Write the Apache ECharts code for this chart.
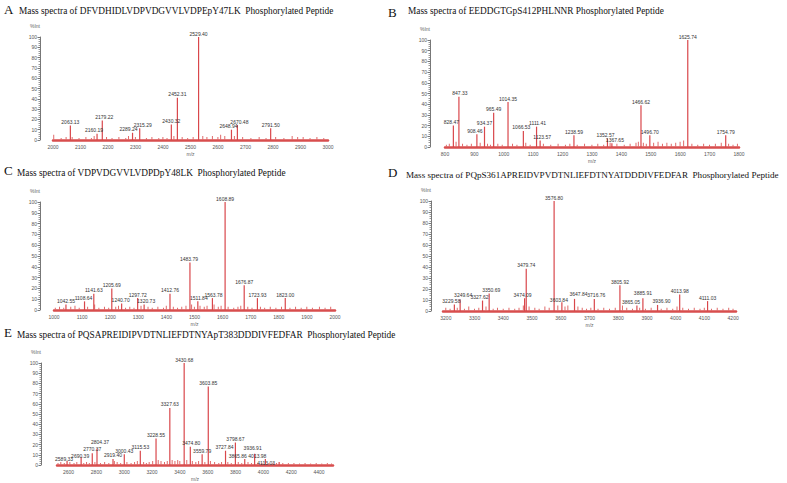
<!DOCTYPE html>
<html><head><meta charset="utf-8">
<script src="https://cdn.jsdelivr.net/npm/echarts@6/dist/echarts.min.js"></script>
<style>html,body{margin:0;padding:0;background:#fff}#c{width:787px;height:483px}</style>
</head><body><div id="c"></div>
<script>
// ---------- Panel titles ----------
const titlesText = [
  'Mass spectra of DFVDHIDLVDPVDGVVLVDPEpY47LK  Phosphorylated Peptide',
  'Mass spectra of EEDDGTGpS412PHLNNR Phosphorylated Peptide',
  'Mass spectra of VDPVDGVVLVDPDpY48LK  Phosphorylated Peptide',
  'Mass spectra of PQpS361APREIDVPVDTNLIEFDTNYATDDDIVFEDFAR  Phosphorylated Peptide',
  'Mass spectra of PQSAPREIDIPVDTNLIEFDTNYApT383DDDIVFEDFAR  Phosphorylated Peptide'
];
const panelLetters = ['A','B','C','D','E'];

// ---------- Tick labels ----------
const ticksA = [2000,2100,2200,2300,2400,2500,2600,2700,2800,2900,3000];
const ticksB = [800,900,1000,1100,1200,1300,1400,1500,1600,1700,1800];
const ticksC = [1000,1100,1200,1300,1400,1500,1600,1700,1800,1900,2000];
const ticksD = [3200,3300,3400,3500,3600,3700,3800,3900,4000,4100,4200];
const ticksE = [2600,2800,3000,3200,3400,3600,3800,4000,4200,4400];

// ---------- Labelled peaks (m/z, %Int) ----------
const peaksA_mz  = [2063.13,2160.19,2179.22,2289.24,2315.29,2430.32,2452.31,2529.40,2648.94,2670.48,2791.50];
const peaksA_int = [14,6,19,7,11.5,15,41,100,10,14.5,11.5];

const peaksB_mz  = [828.47,847.33,908.46,934.37,965.49,1014.35,1066.53,1111.41,1123.57,1238.59,1352.57,1367.65,1466.62,1496.70,1625.74,1754.79];
const peaksB_int = [20,47,12,19,32,42,15,19,6,11,8,3.5,39,11,100,11];

const peaksC_mz  = [1042.55,1108.64,1141.63,1205.69,1240.70,1297.72,1320.73,1412.76,1483.79,1511.84,1563.78,1608.89,1676.87,1723.93,1823.00];
const peaksC_int = [5,8,15,20,6,11,5,15,44,8,11,100,23,11,11];

const peaksD_mz  = [3229.58,3249.64,3327.62,3350.69,3474.09,3479.74,3576.80,3603.84,3647.84,3716.76,3805.92,3865.05,3885.91,3936.90,4013.98,4111.03];
const peaksD_int = [6,10.5,9.5,16,11.5,38.5,100,8,11,11,23.5,5,11.5,5.5,15,9];

const peaksE_mz  = [2589.33,2690.39,2770.37,2804.37,2919.40,3000.43,3115.53,3228.55,3327.63,3430.68,3474.80,3559.79,3603.85,3727.84,3798.67,3865.86,3936.91,4013.98,4113.03];
const peaksE_int = [4,7.5,11.5,16,6,10.5,14,26,56,100,18,10.5,77,14,22,6,11,6,3];

// ---------- Minor (unlabelled) peaks read from the noise floor ----------
const noiseA_mz  = [2003,2030,2048,2070,2095,2120,2140,2150,2195,2215,2240,2265,2275,2300,2340,2360,2385,2400,2415,2440,2470,2490,2510,2545,2560,2580,2600,2610,2625,2660,2690,2720,2750,2775,2810,2840,2870,2890,2910,2935,2960,2985];
const noiseA_int = [5,2,3,3,2,3,2,4,3,2,3,2,4,3,2,3,2,3,2,4,3,2,3,4,3,4,3,5,4,4,3,2,3,2,3,2,4,3,3,2,3,2];

const noiseB_mz  = [805,815,838,860,875,890,920,945,955,980,995,1030,1045,1075,1090,1135,1160,1185,1210,1225,1250,1275,1300,1320,1340,1362,1385,1410,1430,1450,1458,1475,1485,1510,1525,1540,1555,1570,1585,1600,1612,1640,1660,1680,1700,1720,1740,1765,1780,1795];
const noiseB_int = [2,3,5,3,2,3,4,3,2,3,2,3,2,4,2,3,2,3,2,3,2,3,2,3,2,4,3,2,3,4,5,4,3,4,5,3,4,3,4,5,6,3,2,3,2,3,4,3,2,3];

const noiseC_mz  = [1005,1020,1035,1060,1075,1090,1120,1145,1160,1180,1195,1220,1230,1255,1270,1285,1310,1335,1350,1370,1390,1400,1425,1440,1455,1470,1490,1500,1520,1535,1545,1570,1585,1595,1620,1640,1655,1665,1690,1705,1735,1750,1770,1790,1810,1840,1860,1880,1900,1920,1945,1965,1985];
const noiseC_int = [2,3,2,3,4,2,3,5,2,3,2,3,4,2,3,2,4,3,2,3,2,4,3,2,3,4,5,3,4,3,4,5,3,4,3,2,3,4,3,2,3,2,3,2,3,2,3,2,3,2,3,2,3];

const noiseD_mz  = [3200,3215,3240,3265,3280,3300,3315,3340,3365,3380,3400,3420,3440,3455,3470,3490,3510,3525,3545,3560,3590,3615,3625,3660,3675,3690,3705,3730,3750,3770,3790,3815,3830,3850,3875,3895,3915,3950,3970,3990,4005,4025,4045,4065,4085,4100,4125,4145,4165,4185,4200];
const noiseD_int = [3,2,3,2,4,2,3,4,2,3,2,3,2,3,5,4,3,2,4,3,5,4,5,4,3,2,3,2,3,2,3,5,3,2,3,2,3,2,3,2,4,3,2,3,2,3,2,3,2,3,2];

const noiseE_mz  = [2525,2545,2570,2610,2640,2660,2710,2730,2750,2790,2830,2860,2890,2930,2950,2975,3020,3050,3075,3095,3140,3160,3180,3205,3245,3265,3290,3310,3345,3365,3385,3400,3450,3490,3515,3535,3580,3620,3650,3680,3700,3745,3770,3820,3845,3890,3915,3960,3990,4040,4070,4095,4140,4180,4220,4260,4300,4340,4380,4420,4460,4490];
const noiseE_int = [2,3,2,3,2,3,2,3,2,3,2,3,2,4,3,2,3,2,3,4,3,2,3,4,5,4,3,4,5,4,5,4,5,4,3,4,3,4,3,2,3,3,2,3,2,3,2,2,2,2,2,2,2,2,2,1.5,2,1.5,2,1.5,2,1.5];

// ---------- Label placement tweaks (style only, pixel offsets as in the figure) ----------
const labelShift = {
  'A:2160.19':[-3,0], 'A:2179.22':[2,0], 'A:2289.24':[-4,0], 'A:2315.29':[3,0], 'A:2648.94':[-3,0], 'A:2670.48':[2,0],
  'B:828.47':[-2,0], 'B:847.33':[1,0], 'B:908.46':[-2,0], 'B:1066.53':[-2,0], 'B:1111.41':[1,0], 'B:1123.57':[2,0],
  'B:1352.57':[-2,0], 'B:1367.65':[3,0],
  'C:1108.64':[-1,0], 'C:1240.70':[-1,0], 'C:1320.73':[2,0], 'C:1483.79':[-1,0], 'C:1511.84':[1,0], 'C:1563.78':[1,0],
  'D:3229.58':[-3,0], 'D:3249.64':[3,-1], 'D:3327.62':[-3,0], 'D:3350.69':[2,0], 'D:3474.09':[-2,0],
  'D:3603.84':[-3,1], 'D:3647.84':[4,-1], 'D:3716.76':[2,0], 'D:3865.05':[-6,0], 'D:3885.91':[0,-2], 'D:3936.90':[4,0],
  'E:2589.33':[-3,2], 'E:2690.39':[-1,2], 'E:2770.37':[0,-1], 'E:2804.37':[3,-3], 'E:2919.40':[0,0],
  'E:3474.80':[1,0], 'E:3559.79':[0,0], 'E:3727.84':[-1,0], 'E:3865.86':[-7,1], 'E:3936.91':[-2,-2],
  'E:4013.98':[-8,1], 'E:4113.03':[-13,5]
};

// ---------- Build panels ----------
const pair = (a,b) => a.map((v,i)=>[v,b[i]]);
const panels = [
  {id:'A', ticks:ticksA, xmin:2000, xmax:3000, peaks:pair(peaksA_mz,peaksA_int), noise:pair(noiseA_mz,noiseA_int),
   grid:{left:53, top:37, width:275, height:103}, off:13},
  {id:'B', ticks:ticksB, xmin:800, xmax:1800, peaks:pair(peaksB_mz,peaksB_int), noise:pair(noiseB_mz,noiseB_int),
   grid:{left:445, top:40, width:294, height:107}, off:15},
  {id:'C', ticks:ticksC, xmin:1000, xmax:2000, peaks:pair(peaksC_mz,peaksC_int), noise:pair(noiseC_mz,noiseC_int),
   grid:{left:54, top:202, width:281, height:108}, off:14},
  {id:'D', ticks:ticksD, xmin:3190, xmax:4210, peaks:pair(peaksD_mz,peaksD_int), noise:pair(noiseD_mz,noiseD_int),
   grid:{left:443, top:201, width:293, height:110}, off:12},
  {id:'E', ticks:ticksE, xmin:2517, xmax:4500, peaks:pair(peaksE_mz,peaksE_int), noise:pair(noiseE_mz,noiseE_int),
   grid:{left:57, top:363, width:276, height:102}, off:16}
];

const titlePos = [[19,11],[408,11],[17,173],[406,175],[17,335]];
const titleSize = [9.3, 9.3, 9.3, 9.1, 9.3];
const letterPos = [[4,9],[388,12],[4,170],[388,172],[4,332]];

const grids=[], xAxes=[], yAxes=[], series=[], graphics=[];
const sans = 'Liberation Sans';
panels.forEach((p,i)=>{
  grids.push(Object.assign({containLabel:false}, p.grid));
  xAxes.push({
    type:'value', gridIndex:i, min:p.xmin, max:p.xmax,
    name:'m/z', nameLocation:'middle', nameGap:11,
    nameTextStyle:{fontSize:5, color:'#666', fontFamily:sans},
    axisLine:{show:true, onZero:false, lineStyle:{color:'#d84e4e', width:2.5}},
    axisTick:{show:false}, splitLine:{show:false},
    axisLabel:{customValues:p.ticks, fontSize:5, color:'#555', margin:4, fontFamily:sans,
               formatter: v => String(v)}
  });
  yAxes.push({
    type:'value', gridIndex:i, min:0, max:100, interval:10, offset:p.off,
    name:'%Int', nameLocation:'end', nameGap:9,
    nameTextStyle:{fontSize:5, color:'#666', fontFamily:sans, align:'right'},
    axisLine:{show:true, lineStyle:{color:'#777', width:1}},
    axisTick:{show:true, length:2.5, lineStyle:{color:'#777'}},
    minorTick:{show:true, splitNumber:5, length:1.5, lineStyle:{color:'#999'}},
    splitLine:{show:false},
    axisLabel:{fontSize:5, color:'#555', margin:3, fontFamily:sans}
  });
  series.push({
    type:'bar', xAxisIndex:i, yAxisIndex:i, data:p.noise, barWidth:1, barGap:'-100%',
    itemStyle:{color:'#e06a6a'}, silent:true
  });
  series.push({
    type:'bar', xAxisIndex:i, yAxisIndex:i, barWidth:1.2, barGap:'-100%',
    itemStyle:{color:'#d9474b'},
    data:p.peaks.map(d => {
      const s = labelShift[p.id + ':' + d[0].toFixed(2)];
      return s ? {value:d, label:{offset:s}} : {value:d};
    }),
    label:{show:true, position:'top', distance:1, fontSize:5, color:'#333', fontFamily:sans,
           formatter: d => d.value[0].toFixed(2)}
  });
  graphics.push({type:'text', x:titlePos[i][0], y:titlePos[i][1],
    style:{text:titlesText[i], font:titleSize[i] + 'px "Liberation Serif"', fill:'#111', align:'left', verticalAlign:'middle'}});
  graphics.push({type:'text', x:letterPos[i][0], y:letterPos[i][1],
    style:{text:panelLetters[i], font:'13px "Liberation Serif"', fill:'#111', align:'left', verticalAlign:'middle'}});
});

const chart = echarts.init(document.getElementById('c'), null, {renderer:'svg'});
chart.setOption({
  animation:false,
  backgroundColor:'#fff',
  grid:grids, xAxis:xAxes, yAxis:yAxes, series:series, graphic:graphics
});
</script></body></html>
